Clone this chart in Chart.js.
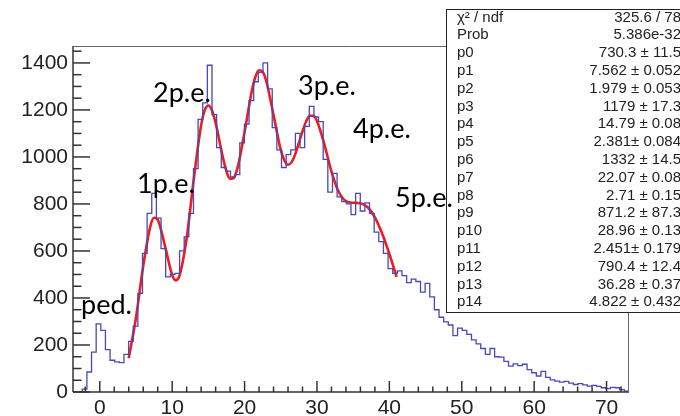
<!DOCTYPE html>
<html>
<head>
<meta charset="utf-8">
<script src="https://cdn.jsdelivr.net/npm/chart.js@4.4.1/dist/chart.umd.min.js"></script>
</head>
<body style="margin:0">
<canvas id="c" width="680" height="416"></canvas>
<script>
/* ------------------------------------------------------------
   Data
   ------------------------------------------------------------ */
const BIN_LOW   = -3.7;   // left edge of first bin
const BIN_WIDTH = 0.64;   // bin width

// histogram contents, one value per bin
const counts = [
  0, 0, 12, 85, 170, 290, 262, 180, 135, 128,
  125, 160, 215, 280, 420, 590, 760, 845, 740, 610,
  490, 500, 505, 600, 660, 760, 950, 1160, 1230, 1390,
  1180, 1040, 955, 940, 915, 925, 1060, 1140, 1240, 1320,
  1360, 1400, 1290, 1125, 1030, 955, 1010, 1030, 1100, 1040,
  1130, 1215, 1170, 1150, 990, 850, 930, 830, 810, 800,
  755, 845, 770, 805, 760, 680, 640, 590, 525, 505,
  515, 495, 465, 480, 470, 425, 462, 405, 350, 318,
  298, 285, 240, 272, 262, 245, 222, 205, 185, 160,
  185, 150, 148, 130, 110, 120, 112, 118, 95, 82,
  68, 88, 62, 52, 46, 42, 45, 38, 32, 36,
  30, 25, 28, 24, 18, 14, 20, 18, 10, 4,
];

// fitted curve (red), sampled points
const fitX = [4, 5, 6, 7, 7.5, 8, 9, 10, 10.5, 11, 12, 13, 14, 14.5, 15, 15.5, 16, 17, 17.5, 18,
              18.5, 19, 20, 21, 21.5, 22, 22.5, 23, 24, 25, 25.5, 26, 26.5, 27, 28, 28.5, 29, 29.5,
              30, 31, 32, 33, 34, 35, 36, 37, 38, 39, 40, 41];
const fitY = [144, 316, 536, 707, 741, 733, 622, 498, 475, 494, 654, 910, 1135, 1199, 1219, 1198, 1145, 998, 939, 907,
              911, 950, 1106, 1281, 1341, 1369, 1362, 1322, 1178, 1030, 985, 967, 978, 1012, 1109, 1151, 1175, 1175,
              1153, 1056, 938, 852, 812, 805, 803, 786, 743, 674, 587, 490];

const xTicks      = [0, 10, 20, 30, 40, 50, 60, 70];
const xMinorTicks = [-2, 2, 4, 6, 8, 12, 14, 16, 18, 22, 24, 26, 28, 32, 34, 36, 38,
                     42, 44, 46, 48, 52, 54, 56, 58, 62, 64, 66, 68, 72];
const yTicks      = [0, 200, 400, 600, 800, 1000, 1200, 1400];
const yMinorTicks = [50, 100, 150, 250, 300, 350, 450, 500, 550, 650, 700, 750, 850, 900, 950,
                     1050, 1100, 1150, 1250, 1300, 1350, 1450];
const X_MIN = -3.7, X_MAX = 73.1, Y_MAX = 1472;

const peakNames = ['ped.', '1p.e.', '2p.e.', '3p.e.', '4p.e.', '5p.e.'];

const statNames  = ['χ² / ndf', 'Prob', 'p0', 'p1', 'p2', 'p3', 'p4', 'p5', 'p6', 'p7',
                    'p8', 'p9', 'p10', 'p11', 'p12', 'p13', 'p14'];
const statValues = ['325.6 / 78', '5.386e-32', '730.3 ± 11.5', '7.562 ± 0.052', '1.979 ± 0.053',
                    '1179 ± 17.3', '14.79 ± 0.08', '2.381± 0.084', '1332 ± 14.5', '22.07 ± 0.08',
                    '2.71 ± 0.15', '871.2 ± 87.3', '28.96 ± 0.13', '2.451± 0.179', '790.4 ± 12.4',
                    '36.28 ± 0.37', '4.822 ± 0.432'];

/* ------------------------------------------------------------
   Layout (pixels)
   ------------------------------------------------------------ */
const PEAK_POS = [[81, 314], [137, 193], [153, 102], [298, 95], [353, 138], [395, 207]];
const STAT_BOX = { left: 446, top: 9, bottom: 312, rowY0: 17.5, rowH: 17.8, labelX: 457, valueX: 681 };

const histPoints = counts.map((v, i) => ({ x: BIN_LOW + i * BIN_WIDTH, y: v }));
histPoints.push({ x: BIN_LOW + counts.length * BIN_WIDTH, y: counts[counts.length - 1] });
const fitPoints = fitX.map((x, i) => ({ x, y: fitY[i] }));

/* ------------------------------------------------------------
   ROOT-style ticks, drawn inside the frame
   ------------------------------------------------------------ */
const rootTicks = {
  id: 'rootTicks',
  afterDatasetsDraw(chart) {
    const ctx = chart.ctx, a = chart.chartArea, xs = chart.scales.x, ys = chart.scales.y;
    ctx.save();
    const marks = [];
    xTicks.forEach((v) => marks.push([xs.getPixelForValue(v), a.bottom, xs.getPixelForValue(v), a.bottom - 11]));
    xMinorTicks.forEach((v) => marks.push([xs.getPixelForValue(v), a.bottom, xs.getPixelForValue(v), a.bottom - 5.5]));
    yTicks.forEach((v) => marks.push([a.left, ys.getPixelForValue(v), a.left + 17, ys.getPixelForValue(v)]));
    yMinorTicks.forEach((v) => marks.push([a.left, ys.getPixelForValue(v), a.left + 8.5, ys.getPixelForValue(v)]));
    marks.push([a.left, a.top, a.left, a.bottom], [a.left, a.bottom, a.right, a.bottom]);
    ctx.strokeStyle = '#333';
    ctx.lineWidth = 1.5;
    marks.forEach(([x1, y1, x2, y2]) => { ctx.beginPath(); ctx.moveTo(x1, y1); ctx.lineTo(x2, y2); ctx.stroke(); });

    ctx.strokeStyle = '#666';
    ctx.lineWidth = 1;
    ctx.beginPath();
    ctx.moveTo(a.left, a.top + 0.5); ctx.lineTo(a.right - 0.5, a.top + 0.5); ctx.lineTo(a.right - 0.5, a.bottom);
    ctx.stroke();
    ctx.restore();
  },
};

/* ------------------------------------------------------------
   Stats box and peak labels
   ------------------------------------------------------------ */
const rootOverlay = {
  id: 'rootOverlay',
  afterDraw(chart) {
    const ctx = chart.ctx;
    const b = STAT_BOX;
    const w = chart.width - b.left + 5;
    ctx.save();
    ctx.fillStyle = '#fff';
    ctx.fillRect(b.left, b.top, w, b.bottom - b.top);
    ctx.strokeStyle = '#222';
    ctx.lineWidth = 1;
    ctx.strokeRect(b.left + 0.5, b.top + 0.5, w, b.bottom - b.top);
    ctx.fillStyle = '#222';
    ctx.font = '15px "Liberation Sans", Arial, sans-serif';
    ctx.textBaseline = 'middle';
    statNames.forEach((name, i) => {
      const ry = b.rowY0 + i * b.rowH;
      ctx.textAlign = 'left';
      ctx.fillText(name, b.labelX, ry);
      ctx.textAlign = 'right';
      ctx.fillText(statValues[i], b.valueX, ry);
    });

    ctx.fillStyle = '#000';
    ctx.font = '27px Lato, "Open Sans", sans-serif';
    ctx.textAlign = 'left';
    ctx.textBaseline = 'alphabetic';
    peakNames.forEach((t, i) => ctx.fillText(t, PEAK_POS[i][0], PEAK_POS[i][1]));
    ctx.restore();
  },
};

const tickFont = { family: '"Liberation Sans", Arial, sans-serif', size: 21 };

new Chart(document.getElementById('c'), {
  type: 'line',
  data: {
    datasets: [
      { data: histPoints, stepped: true, pointRadius: 0, borderWidth: 1.3, borderColor: '#4848b8' },
      { data: fitPoints, cubicInterpolationMode: 'monotone', pointRadius: 0, borderColor: '#ee1c1c', borderWidth: 2.6 },
    ],
  },
  options: {
    responsive: false,
    animation: false,
    layout: { padding: { top: 46, right: 51, left: 0, bottom: 0 } },
    plugins: { legend: { display: false }, tooltip: { enabled: false } },
    scales: {
      x: {
        type: 'linear', min: X_MIN, max: X_MAX,
        grid: { display: false, drawTicks: false }, border: { display: false },
        ticks: { font: tickFont, color: '#222', padding: 4, maxRotation: 0 },
        afterBuildTicks: (s) => { s.ticks = xTicks.map((v) => ({ value: v })); },
        afterFit: (s) => { s.height = 24; },
      },
      y: {
        min: 0, max: Y_MAX,
        grid: { display: false, drawTicks: false }, border: { display: false },
        ticks: { font: tickFont, color: '#222', padding: 5, callback: (v) => String(v) },
        afterBuildTicks: (s) => { s.ticks = yTicks.map((v) => ({ value: v })); },
        afterFit: (s) => { s.width = 73; },
      },
    },
  },
  plugins: [rootTicks, rootOverlay],
});
</script>
</body>
</html>
